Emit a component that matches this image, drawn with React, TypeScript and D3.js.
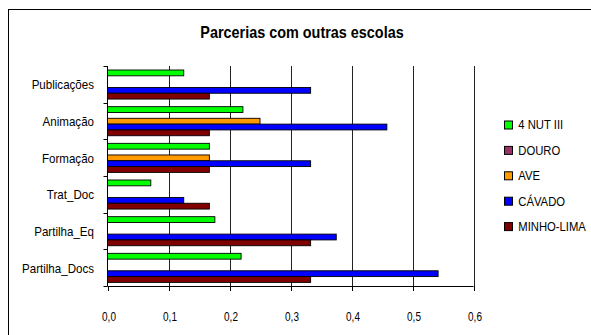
import * as d3 from "d3";

const categories = ["Publicações", "Animação", "Formação", "Trat_Doc", "Partilha_Eq", "Partilha_Docs"];
const seriesNames = ["4 NUT III", "DOURO", "AVE", "CÁVADO", "MINHO-LIMA"];
const seriesColors = ["#00ff00", "#993366", "#ff9900", "#0000ff", "#800000"];
const nut3 = [0.125, 0.222, 0.167, 0.071, 0.176, 0.219];
const douro = [0, 0, 0, 0, 0, 0];
const ave = [0, 0.25, 0.167, 0, 0, 0];
const cavado = [0.333, 0.458, 0.333, 0.125, 0.375, 0.542];
const minhoLima = [0.167, 0.167, 0.167, 0.167, 0.333, 0.333];
const xTicks = [0, 0.1, 0.2, 0.3, 0.4, 0.5, 0.6];

const seriesValues = [nut3, douro, ave, cavado, minhoLima];

// text squeezed horizontally, like the narrow font of the original
function Txt(props: {
  x: number;
  y: number;
  sx: number;
  size: number;
  anchor?: "start" | "middle" | "end";
  bold?: boolean;
  children: string;
}) {
  return (
    <text
      transform={`translate(${props.x},${props.y}) scale(${props.sx},1)`}
      textAnchor={props.anchor || "start"}
      fontSize={props.size}
      fontWeight={props.bold ? "bold" : "normal"}
    >
      {props.children}
    </text>
  );
}

export default function App() {
  const width = 591;
  const height = 335;
  const left = 107.5;
  const right = 473.5;
  const top = 66;
  const bottom = 286;

  const x = d3.scaleLinear().domain([0, 0.6]).range([left, right]);
  const y = d3.scaleBand<string>().domain(categories).range([top, bottom]).padding(0);
  const bh = y.bandwidth();
  const inner = d3.scaleBand<string>().domain(seriesNames).range([4, bh - 3.6]).padding(0);
  const fmt = (v: number) => d3.format(".1f")(v).replace(".", ",");

  const legendX = 504.5;
  const legendY0 = 125;
  const legendStep = 25.4;

  return (
    <svg
      width={width}
      height={height}
      style={{ position: "absolute", left: 0, top: 0, background: "#fff" }}
      fontFamily="'Liberation Sans', Arial, sans-serif"
    >
      <rect x={8.5} y={9.5} width={620} height={360} fill="#fff" stroke="#000" strokeWidth={1} />
      <Txt x={302} y={37.7} sx={0.9} size={16} anchor="middle" bold>
        Parcerias com outras escolas
      </Txt>

      {/* grid */}
      {xTicks.slice(1).map((t) => (
        <line key={"g" + t} x1={Math.round(x(t)) + 0.5} x2={Math.round(x(t)) + 0.5} y1={top} y2={bottom} stroke="#222" strokeWidth={1} />
      ))}

      {/* bars */}
      {categories.map((c, ci) => (
        <g key={c} transform={`translate(0,${y(c)})`}>
          {seriesNames.map((s, si) => {
            const v = seriesValues[si][ci];
            if (!v) return null;
            return (
              <rect
                key={s}
                x={x(0)}
                y={inner(s)!}
                width={x(v) - x(0)}
                height={inner.bandwidth()}
                fill={seriesColors[si]}
                stroke="#000"
                strokeWidth={0.9}
              />
            );
          })}
        </g>
      ))}

      {/* y axis */}
      <line x1={left} x2={left} y1={top} y2={bottom} stroke="#000" />
      {d3.range(categories.length + 1).map((i) => {
        const yy = Math.round(top + i * bh) + 0.5;
        return <line key={"yt" + i} x1={left - 4} x2={left} y1={yy} y2={yy} stroke="#000" />;
      })}
      {categories.map((c) => (
        <Txt key={"l" + c} x={94} y={y(c)! + bh / 2 + 5} sx={0.89} size={13} anchor="end">
          {c}
        </Txt>
      ))}

      {/* x axis */}
      <line x1={left} x2={right} y1={bottom + 0.5} y2={bottom + 0.5} stroke="#000" />
      {xTicks.map((t) => (
        <g key={"xt" + t}>
          <line x1={Math.round(x(t)) + 0.5} x2={Math.round(x(t)) + 0.5} y1={bottom} y2={bottom + 5} stroke="#000" />
          <Txt x={x(t) + 1.5} y={320.5} sx={0.8} size={12.5} anchor="middle">
            {fmt(t)}
          </Txt>
        </g>
      ))}

      {/* legend */}
      {seriesNames.map((s, i) => (
        <g key={"lg" + s} transform={`translate(${legendX},${legendY0 + i * legendStep})`}>
          <rect x={0} y={-4} width={8} height={8} fill={seriesColors[i]} stroke="#000" strokeWidth={1} />
          <Txt x={13.8} y={4.3} sx={0.94} size={12}>
            {s}
          </Txt>
        </g>
      ))}
    </svg>
  );
}
